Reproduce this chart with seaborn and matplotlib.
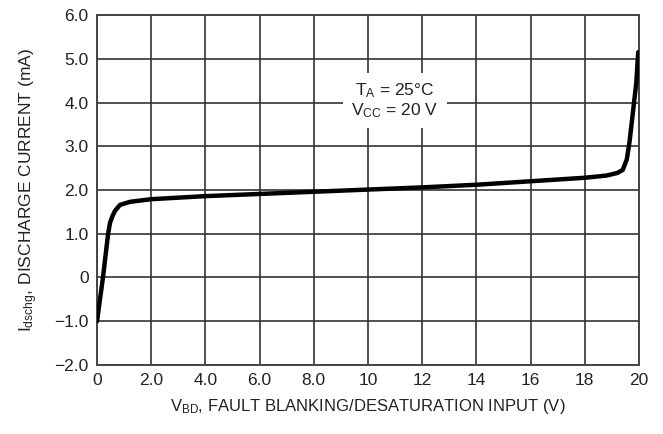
import matplotlib
matplotlib.use("Agg")
from matplotlib import pyplot as plt
import seaborn as sns

# discharge current vs fault blanking input
vbd = [0, 0.22, 0.41, 0.48, 0.57, 0.66, 0.85, 1.22, 2.0, 4.0, 6.0, 8.0, 10, 12, 14,
       16, 18, 18.8, 19.2, 19.4, 19.55, 19.65, 19.78, 19.9, 19.97]
idschg = [-1.0, 0.0, 1.0, 1.25, 1.4, 1.52, 1.66, 1.73, 1.79, 1.86, 1.91, 1.96, 2.01,
          2.06, 2.12, 2.2, 2.28, 2.33, 2.39, 2.46, 2.7, 3.1, 3.8, 4.45, 5.15]

xticks = [0, 2, 4, 6, 8, 10, 12, 14, 16, 18, 20]
xticklabels = ['0', '2.0', '4.0', '6.0', '8.0', '10', '12', '14', '16', '18', '20']
yticks = [-2, -1, 0, 1, 2, 3, 4, 5, 6]
yticklabels = ['\u22122.0', '\u22121.0', '0', '1.0', '2.0', '3.0', '4.0', '5.0', '6.0']

sns.set_style('white')
plt.rcParams['font.family'] = ['Liberation Sans', 'DejaVu Sans']

fig = plt.figure(figsize=(6.63, 4.34), dpi=100)
ax = fig.add_axes([0.1463, 0.159, 0.8175, 0.8064])

sns.lineplot(x=vbd, y=idschg, sort=False, estimator=None, color='black',
             linewidth=3.2, ax=ax, zorder=3)

ax.set_xlim(0, 20)
ax.set_ylim(-2, 6)
ax.set_xticks(xticks)
ax.set_xticklabels(xticklabels)
ax.set_yticks(yticks)
ax.set_yticklabels(yticklabels)
ax.tick_params(length=0, labelsize=12.5, pad=6, colors='#222222')
ax.grid(True, color='#333333', linewidth=1.2)
for s in ax.spines.values():
    s.set_color('#444444')
    s.set_linewidth(1.4)

ax.set_xlabel(r'$\mathregular{V_{BD}}$, FAULT BLANKING/DESATURATION INPUT (V)',
              fontsize=12, labelpad=6, color='#222222')
ax.set_ylabel(r'$\mathregular{I_{dschg}}$, DISCHARGE CURRENT (mA)',
              fontsize=12.5, labelpad=10, color='#222222')

ax.text(11.0, 4.05, 'T$\\mathregular{_A}$ = 25\u00b0C\nV$\\mathregular{_{CC}}$ = 20 V',
        ha='center', va='center', fontsize=12.5, color='#222222', zorder=4,
        linespacing=1.1,
        bbox=dict(facecolor='white', edgecolor='none', pad=6))

fig.savefig('out.png', dpi=100)
